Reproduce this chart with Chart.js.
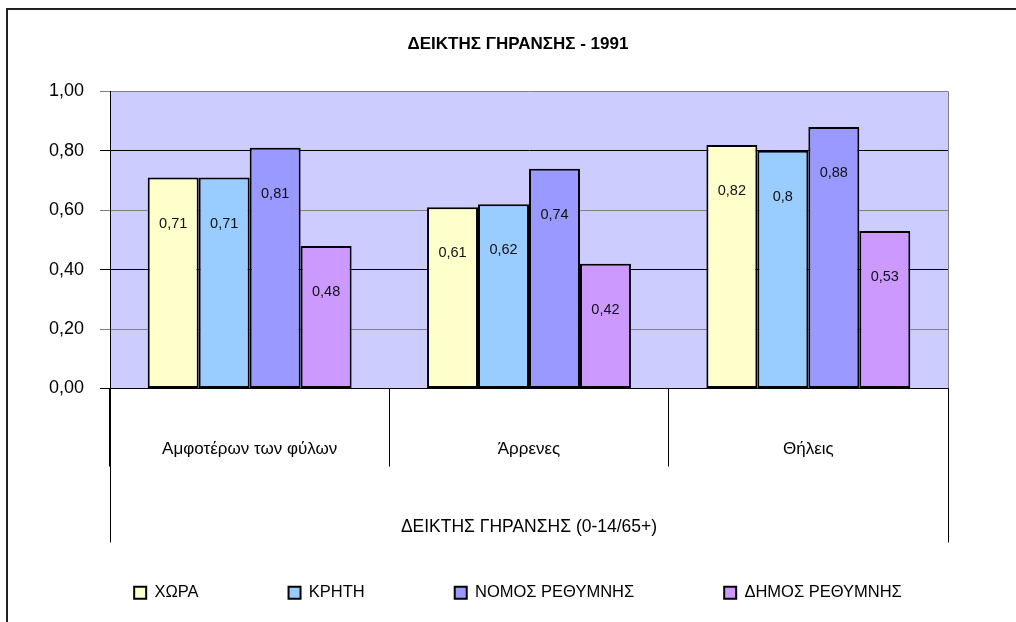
<!DOCTYPE html>
<html>
<head>
<meta charset="utf-8">
<script src="https://cdn.jsdelivr.net/npm/chart.js@4.4.1/dist/chart.umd.min.js"></script>
<style>
    html, body { margin: 0; padding: 0; background: #fff; }
    #wrap { position: relative; width: 1016px; height: 622px; }
</style>
</head>
<body>
<div id="wrap"><canvas id="ageChart"></canvas></div>
<script>
// Data
const categories = ['Αμφοτέρων των φύλων', 'Άρρενες', 'Θήλεις'];
const seriesNames = ['ΧΩΡΑ', 'ΚΡΗΤΗ', 'ΝΟΜΟΣ ΡΕΘΥΜΝΗΣ', 'ΔΗΜΟΣ ΡΕΘΥΜΝΗΣ'];
const xoraValues = [0.71, 0.61, 0.82];
const kritiValues = [0.71, 0.62, 0.80];
const nomosValues = [0.81, 0.74, 0.88];
const dimosValues = [0.48, 0.42, 0.53];
const yTicks = [0, 0.2, 0.4, 0.6, 0.8, 1.0];

const seriesValues = [xoraValues, kritiValues, nomosValues, dimosValues];
const seriesColors = ['#FFFFCC', '#99CCFF', '#9999FF', '#CC99FF'];

const FONT = "'Liberation Sans', Arial, sans-serif";

function commaNum(v, digits) {
    const s = digits === undefined ? String(v) : v.toFixed(digits);
    return s.replace('.', ',');
}

// background, frame and the long separators under the axis
const framePlugin = {
    id: 'frame',
    beforeDraw(chart) {
        const { ctx, chartArea: a } = chart;
        ctx.save();
        ctx.fillStyle = '#CCCCFF';
        ctx.fillRect(a.left, a.top, a.right - a.left, a.bottom - a.top);
        // outer border (only left and top visible)
        ctx.strokeStyle = '#222';
        ctx.lineWidth = 2;
        ctx.beginPath();
        ctx.moveTo(7, chart.height);
        ctx.lineTo(7, 9);
        ctx.lineTo(chart.width, 9);
        ctx.stroke();
        ctx.restore();
    },
    afterDraw(chart) {
        const { ctx, chartArea: a } = chart;
        ctx.save();
        ctx.lineWidth = 1;
        ctx.strokeStyle = '#808080';
        ctx.beginPath();
        ctx.moveTo(a.right + 0.5, a.top);
        ctx.lineTo(a.right + 0.5, a.bottom);
        ctx.stroke();
        ctx.strokeStyle = '#000';
        ctx.beginPath();
        ctx.moveTo(a.left + 0.5, a.bottom);
        ctx.lineTo(a.left + 0.5, a.bottom + 154);
        ctx.moveTo(a.right + 0.5, a.bottom);
        ctx.lineTo(a.right + 0.5, a.bottom + 154);
        ctx.stroke();
        ctx.restore();
    }
};

// value labels inside the bars
const valueLabels = {
    id: 'valueLabels',
    afterDatasetsDraw(chart) {
        const { ctx } = chart;
        ctx.save();
        ctx.font = '14.5px ' + FONT;
        ctx.fillStyle = '#111';
        ctx.textAlign = 'center';
        ctx.textBaseline = 'middle';
        chart.data.datasets.forEach((ds, i) => {
            chart.getDatasetMeta(i).data.forEach((bar, j) => {
                ctx.fillText(commaNum(ds.data[j]), bar.x, bar.y + 46);
            });
        });
        ctx.restore();
    }
};

const ctx = document.getElementById('ageChart').getContext('2d');

new Chart(ctx, {
    type: 'bar',
    data: {
        labels: categories,
        datasets: seriesNames.map((name, i) => ({
            label: name,
            data: seriesValues[i],
            backgroundColor: seriesColors[i],
            borderColor: '#000',
            borderWidth: 2,
            borderSkipped: false,
            yAxisID: 'y'
        }))
    },
    options: {
        responsive: true,
        maintainAspectRatio: false,
        animation: false,
        events: [],
        layout: {
            padding: { left: 20, right: 0, top: 0, bottom: 11 }
        },
        datasets: {
            bar: { categoryPercentage: 0.73, barPercentage: 1.0 }
        },
        scales: {
            x: {
                offset: true,
                grid: {
                    offset: true,
                    drawOnChartArea: false,
                    tickLength: 78,
                    color: '#000'
                },
                border: { display: true, color: '#000' },
                ticks: {
                    padding: -27,
                    color: '#000',
                    font: { family: FONT, size: 17 }
                },
                title: {
                    display: true,
                    text: 'ΔΕΙΚΤΗΣ ΓΗΡΑΝΣΗΣ (0-14/65+)',
                    color: '#000',
                    font: { family: FONT, size: 17.5 },
                    padding: { top: 0, bottom: -43 }
                },
                afterFit(scale) { scale.height = 106; }
            },
            y: {
                min: 0,
                max: 1,
                afterBuildTicks(scale) { scale.ticks = yTicks.map(v => ({ value: v })); },
                grid: {
                    tickLength: 10,
                    color: (c) => (c.index % 2 === 0 ? '#000' : '#808080')
                },
                border: { display: true, color: '#000' },
                ticks: {
                    padding: 16,
                    color: '#000',
                    font: { family: FONT, size: 18 },
                    callback: (v) => commaNum(v, 2)
                },
                afterFit(scale) { scale.width = 90; }
            },
            yRight: {
                position: 'right',
                display: true,
                grid: { display: false },
                border: { display: false },
                ticks: { display: false },
                afterFit(scale) { scale.width = 68; }
            }
        },
        plugins: {
            title: {
                display: true,
                text: 'ΔΕΙΚΤΗΣ ΓΗΡΑΝΣΗΣ - 1991',
                color: '#000',
                font: { family: FONT, size: 17, weight: 'bold' },
                padding: { top: 34, bottom: 37 }
            },
            legend: {
                position: 'bottom',
                labels: {
                    boxWidth: 12,
                    boxHeight: 12,
                    padding: 90,
                    color: '#000',
                    font: { family: FONT, size: 16.5 }
                }
            },
            tooltip: { enabled: false }
        }
    },
    plugins: [framePlugin, valueLabels]
});
</script>
</body>
</html>
